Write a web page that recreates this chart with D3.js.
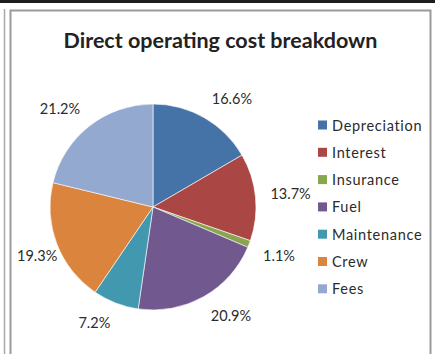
<!DOCTYPE html>
<html>
<head>
<meta charset="utf-8">
<script src="https://cdn.jsdelivr.net/npm/d3@7"></script>
<style>
  html, body { margin: 0; padding: 0; background: #fff; }
  svg { display: block; }
</style>
</head>
<body>
<svg id="chart" width="435" height="354"></svg>
<script>
// Direct operating cost shares, in percent
const categories = ["Depreciation", "Interest", "Insurance", "Fuel", "Maintenance", "Crew", "Fees"];
const shares = [16.6, 13.7, 1.1, 20.9, 7.2, 19.3, 21.2];
const sliceColors = ["#4572A7", "#AA4643", "#89A54E", "#71588F", "#4198AF", "#DB843D", "#93A9CF"];
const titleText = "Direct operating cost breakdown";

const svg = d3.select("#chart");
const W = 435, H = 354;
const FONT = "Lato, 'Open Sans', sans-serif";

// window frame: dark strip on top, outer guide line, chart border
svg.append("rect").attr("x", 0).attr("y", 0).attr("width", W).attr("height", 3).attr("fill", "#1e1e1e");
svg.append("line").attr("x1", 4.5).attr("x2", 4.5).attr("y1", 9).attr("y2", H)
  .attr("stroke", "#a8a8a8").attr("stroke-width", 1.5);
svg.append("path")
  .attr("d", `M10.5,${H} V10.5 H430.5 V${H}`)
  .attr("fill", "none").attr("stroke", "#9a9a9a").attr("stroke-width", 2);

// title
svg.append("text")
  .attr("x", 220.5).attr("y", 48)
  .attr("text-anchor", "middle")
  .attr("font-family", FONT).attr("font-weight", "bold").attr("font-size", 21.5)
  .attr("fill", "#222")
  .text(titleText);

// pie
const cx = 153, cy = 207, r = 103;
const color = d3.scaleOrdinal().domain(categories).range(sliceColors);
const pie = d3.pie().sort(null).value(d => d.value);
const arc = d3.arc().innerRadius(0).outerRadius(r);
const data = categories.map((c, i) => ({ name: c, value: shares[i] }));
const arcs = pie(data);

const g = svg.append("g").attr("transform", `translate(${cx},${cy})`);
g.selectAll("path.slice")
  .data(arcs)
  .join("path")
  .attr("class", "slice")
  .attr("d", arc)
  .attr("fill", d => color(d.data.name))
  .attr("stroke", "#fff").attr("stroke-width", 0.6);

// percentage labels placed outside the slice ends, corner-anchored like a text box
const labelR = 118;
const fmt = d3.format(".1f");
const labels = g.selectAll("text.pct")
  .data(arcs)
  .join("text")
  .attr("class", "pct")
  .attr("font-family", FONT).attr("font-size", 14.5)
  .attr("fill", "#2b2b2b")
  .attr("text-anchor", "middle")
  .attr("dominant-baseline", "central")
  .text(d => fmt(d.data.value) + "%");

labels.each(function(d) {
  const el = d3.select(this);
  const bb = this.getBBox();
  const hw = bb.width / 2, hh = 6;
  const a = (d.startAngle + d.endAngle) / 2;
  const s = Math.sin(a), c = -Math.cos(a);
  const clamp = v => Math.max(-1, Math.min(1, v));
  let x = labelR * s + hw * clamp(s * 3);
  let y = labelR * c + hh * clamp(c * 3);
  // keep the label inside the chart border
  const minLeft = 17 - cx;
  if (x - hw < minLeft) x = minLeft + hw;
  el.attr("x", x).attr("y", y);
});

// legend
const legend = svg.append("g").attr("transform", "translate(318,125)");
const rowStep = 27.3;
const rows = legend.selectAll("g.row")
  .data(categories)
  .join("g")
  .attr("class", "row")
  .attr("transform", (d, i) => `translate(0,${i * rowStep})`);
rows.append("rect")
  .attr("x", 0).attr("y", -4.5).attr("width", 9).attr("height", 9)
  .attr("fill", d => color(d));
rows.append("text")
  .attr("x", 14).attr("y", 0)
  .attr("dominant-baseline", "central")
  .attr("font-family", FONT).attr("font-size", 14.5).attr("letter-spacing", 0.7)
  .attr("fill", "#2b2b2b")
  .text(d => d);
</script>
</body>
</html>
